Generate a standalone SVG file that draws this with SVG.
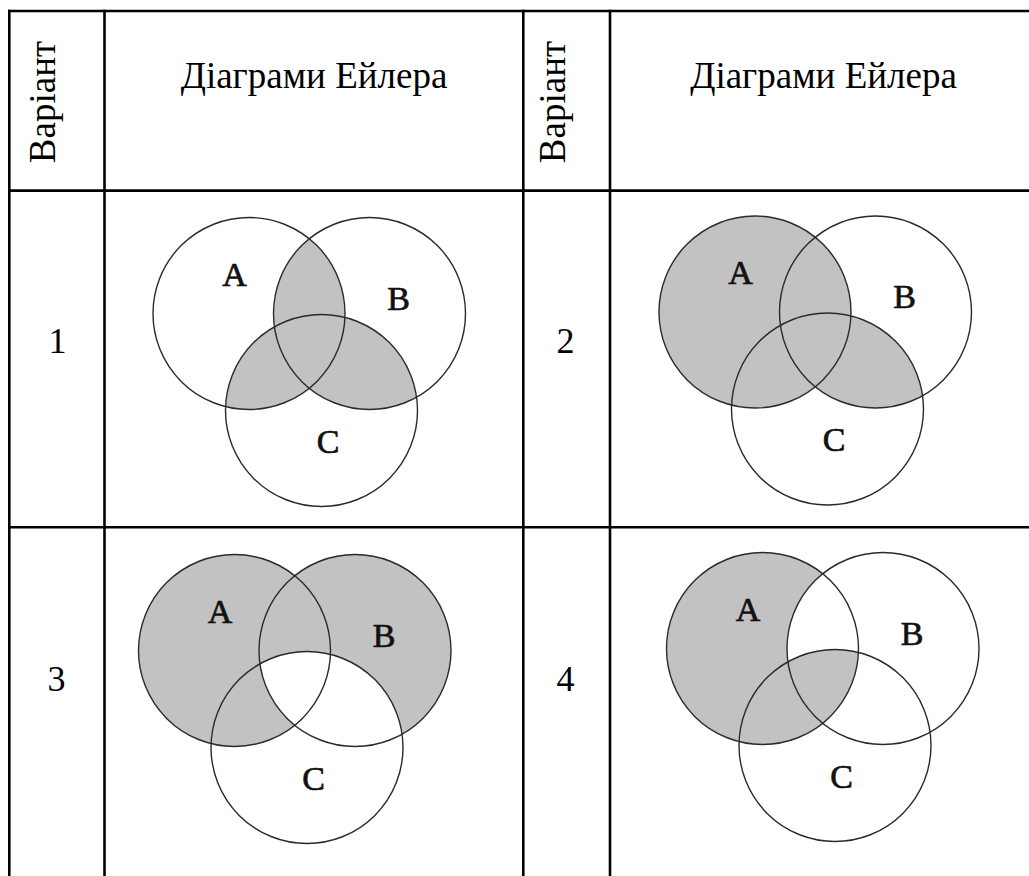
<svg xmlns="http://www.w3.org/2000/svg" xmlns:xlink="http://www.w3.org/1999/xlink" width="1029" height="876" viewBox="0 0 1029 876">
<style>
.grid{stroke:#000;stroke-width:2.6;fill:none}
.hdr{font-family:"Liberation Serif","Times New Roman",serif;font-size:37px;fill:#000}
.num{font-family:"Liberation Serif","Times New Roman",serif;font-size:36px;fill:#000;text-anchor:middle}
.lbl{font-family:"Liberation Serif","Times New Roman",serif;font-size:34px;fill:#111;stroke:#111;stroke-width:0.7;text-anchor:middle}
.ring{fill:none;stroke:#2a2a2a;stroke-width:1.4}
.g{fill:#c2c2c2}
.w{fill:#fff}
</style>
<defs>
<clipPath id="cA"><circle cx="0" cy="0" r="96"/></clipPath>
<clipPath id="cB"><circle cx="120.5" cy="0" r="96"/></clipPath>
<clipPath id="cC"><circle cx="72.5" cy="97" r="96"/></clipPath>
<g id="rings">
<circle class="ring" cx="0" cy="0" r="96"/>
<circle class="ring" cx="120.5" cy="0" r="96"/>
<circle class="ring" cx="72.5" cy="97" r="96"/>
</g>
<g id="labels">
<text class="lbl" x="-14.5" y="-28">A</text>
<text class="lbl" x="149.5" y="-4">B</text>
<text class="lbl" x="79" y="139">C</text>
</g>
</defs>
<rect width="1029" height="876" fill="#fff"/>
<g id="table">
<line class="grid" x1="8" y1="11" x2="1029" y2="11"/>
<line class="grid" x1="8" y1="190.6" x2="1029" y2="190.6"/>
<line class="grid" x1="8" y1="527.3" x2="1029" y2="527.3"/>
<line class="grid" x1="9.3" y1="9.7" x2="9.3" y2="876"/>
<line class="grid" x1="104.5" y1="9.7" x2="104.5" y2="876"/>
<line class="grid" x1="523.3" y1="9.7" x2="523.3" y2="876"/>
<line class="grid" x1="610" y1="9.7" x2="610" y2="876"/>
</g>
<g id="header">
<text class="hdr" transform="translate(55,102) rotate(-90)" text-anchor="middle" font-size="36">Варіант</text>
<text class="hdr" x="314" y="88" text-anchor="middle">Діаграми Ейлера</text>
<text class="hdr" transform="translate(565,102) rotate(-90)" text-anchor="middle" font-size="36">Варіант</text>
<text class="hdr" x="823.5" y="88" text-anchor="middle">Діаграми Ейлера</text>
</g>
<g id="numbers">
<text class="num" x="57.5" y="353">1</text>
<text class="num" x="565.5" y="353">2</text>
<text class="num" x="56.5" y="691">3</text>
<text class="num" x="565.5" y="691">4</text>
</g>
<g id="venn1" transform="translate(249,313.5)">
<g clip-path="url(#cA)"><circle class="g" cx="120.5" cy="0" r="96"/><circle class="g" cx="72.5" cy="97" r="96"/></g>
<g clip-path="url(#cB)"><circle class="g" cx="72.5" cy="97" r="96"/></g>
<use xlink:href="#rings"/>
<use xlink:href="#labels"/>
</g>
<g id="venn2" transform="translate(755,312)">
<circle class="g" cx="0" cy="0" r="96"/>
<g clip-path="url(#cB)"><circle class="g" cx="72.5" cy="97" r="96"/></g>
<use xlink:href="#rings"/>
<use xlink:href="#labels"/>
</g>
<g id="venn3" transform="translate(234.5,650.5)">
<circle class="g" cx="0" cy="0" r="96"/>
<circle class="g" cx="120.5" cy="0" r="96"/>
<g clip-path="url(#cB)"><circle class="w" cx="72.5" cy="97" r="96"/></g>
<use xlink:href="#rings"/>
<use xlink:href="#labels"/>
</g>
<g id="venn4" transform="translate(762.5,648.5)">
<circle class="g" cx="0" cy="0" r="96"/>
<g clip-path="url(#cA)"><circle class="w" cx="120.5" cy="0" r="96"/><circle class="g" cx="72.5" cy="97" r="96"/></g>
<use xlink:href="#rings"/>
<use xlink:href="#labels"/>
</g>
</svg>
